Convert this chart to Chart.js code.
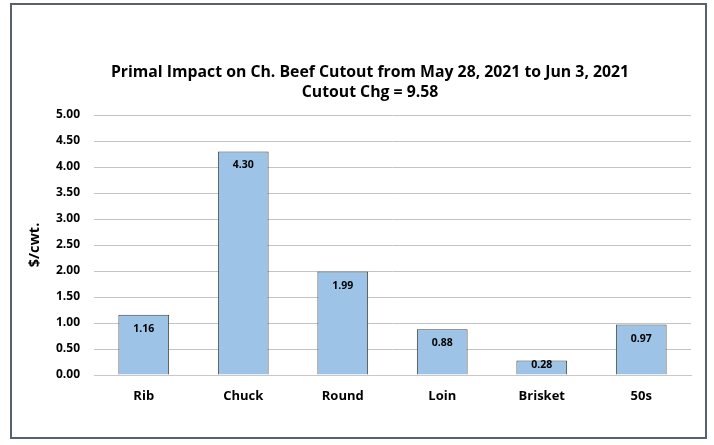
<!DOCTYPE html>
<html><head><meta charset="utf-8">
<script src="https://cdn.jsdelivr.net/npm/chart.js@4.4.1/dist/chart.umd.min.js"></script>
<style>
html,body{margin:0;padding:0;background:#fff;}
#wrap{position:relative;width:714px;height:445px;}
#frame{position:absolute;left:10px;top:3px;width:693px;height:432px;border:2px solid #58626c;pointer-events:none;}
canvas{position:absolute;left:0;top:0;}
</style></head>
<body>
<div id="wrap"><canvas id="c" width="714" height="445"></canvas><div id="frame"></div></div>
<script>
const categories = ["Rib","Chuck","Round","Loin","Brisket","50s"];
const values = [1.16, 4.30, 1.99, 0.88, 0.28, 0.97];
const titleLines = ["Primal Impact on Ch. Beef Cutout from May 28, 2021 to Jun 3, 2021","Cutout Chg = 9.58"];
const yTitle = "$/cwt.";
const FONT = "'Open Sans'";

const titlePlugin = {
  id:'tp',
  afterDraw(chart){
    const ctx = chart.ctx;
    ctx.save();
    ctx.fillStyle = '#000';
    ctx.font = 'bold 15.8px ' + FONT;
    ctx.textAlign = 'center';
    ctx.textBaseline = 'middle';
    ctx.fillText(titleLines[0], 370, 72);
    ctx.fillText(titleLines[1], 370, 92);
    const meta = chart.getDatasetMeta(0);
    const base = chart.scales.y.getPixelForValue(0);
    ctx.font = 'bold 10.5px ' + FONT;
    meta.data.forEach((bar,i)=>{
      ctx.fillText(values[i].toFixed(2), bar.x, Math.min(bar.y + 14, base - 10));
    });
    ctx.restore();
  }
};

new Chart(document.getElementById('c'), {
  type:'bar',
  data:{labels:categories, datasets:[{data:values, backgroundColor:'#9dc3e6', borderColor:'#404040', borderWidth:1, barPercentage:0.51, categoryPercentage:1}]},
  options:{
    responsive:false, animation:false,
    layout:{padding:{left:20, right:23, top:115, bottom:0}},
    plugins:{legend:{display:false}, tooltip:{enabled:false}, title:{display:false}},
    scales:{
      x:{
        grid:{display:false, drawTicks:false},
        border:{display:true, color:'#c8c8c8', width:1},
        ticks:{color:'#000', font:{family:FONT, weight:'bold', size:13}, padding:13},
        afterFit(s){ s.height = 70; }
      },
      y:{
        min:0, max:5,
        grid:{color:'#c4c4c4', drawTicks:false},
        border:{display:false},
        ticks:{stepSize:0.5, color:'#000', font:{family:FONT, weight:'bold', size:12}, padding:14, callback:v=>v.toFixed(2)},
        title:{display:true, text:yTitle, color:'#000', font:{family:FONT, weight:'bold', size:14.5}, padding:{top:6,bottom:0}},
        afterFit(s){ s.width = 74; }
      }
    }
  },
  plugins:[titlePlugin]
});
</script>
</body></html>
